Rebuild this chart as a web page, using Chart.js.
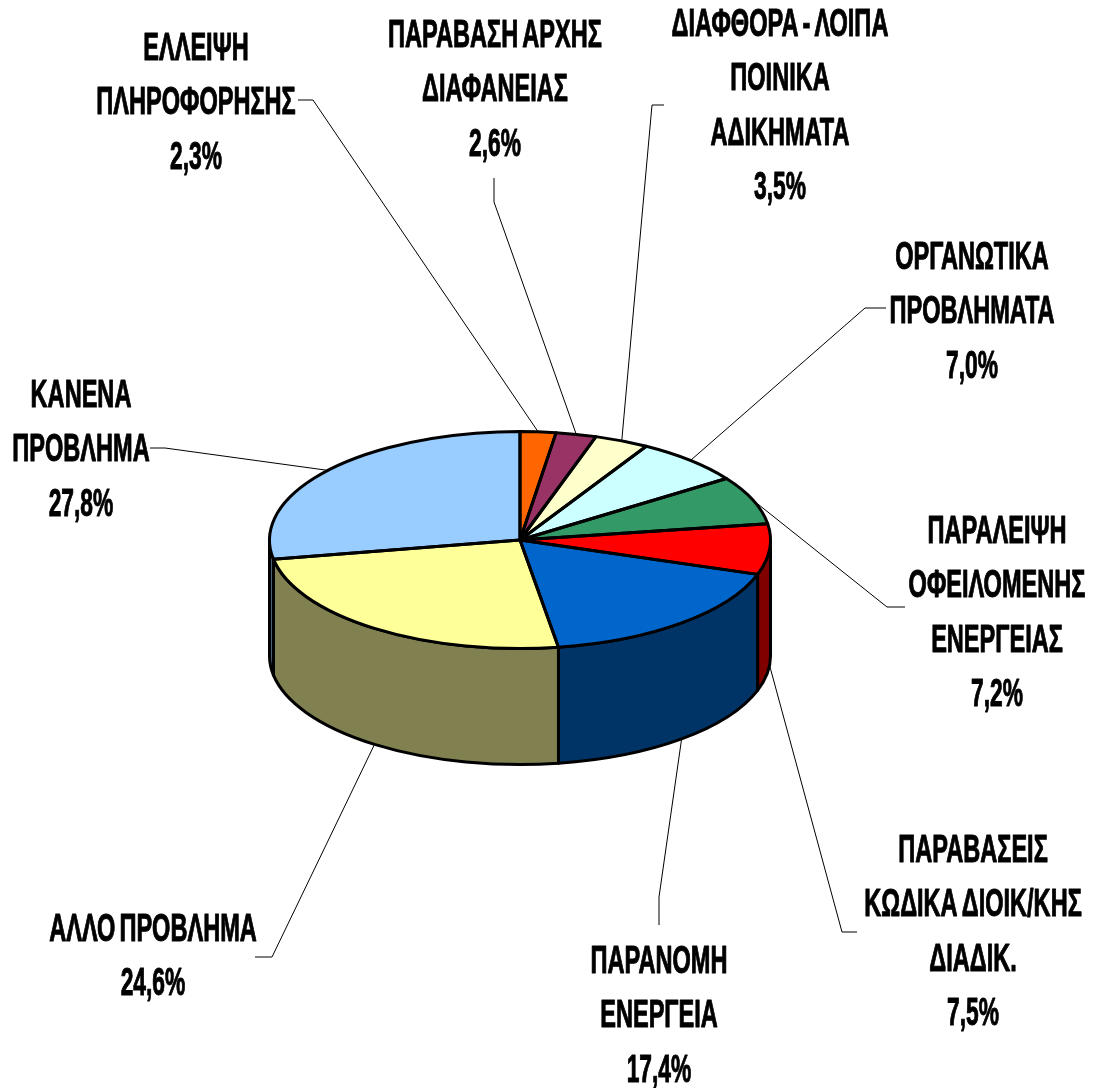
<!DOCTYPE html>
<html>
<head>
<meta charset="utf-8">
<title>Pie</title>
<script src="https://cdn.jsdelivr.net/npm/chart.js@4"></script>
<style>
  html, body { margin: 0; padding: 0; background: #fff; }
  #wrap { width: 1094px; height: 1088px; }
</style>
</head>
<body>
<div id="wrap"><canvas id="pie" width="1094" height="1088"></canvas></div>
<script>
// chart data, clockwise from 12 o'clock
const categories = [
  ["ΕΛΛΕΙΨΗ", "ΠΛΗΡΟΦΟΡΗΣΗΣ"],
  ["ΠΑΡΑΒΑΣΗ ΑΡΧΗΣ", "ΔΙΑΦΑΝΕΙΑΣ"],
  ["ΔΙΑΦΘΟΡΑ - ΛΟΙΠΑ", "ΠΟΙΝΙΚΑ", "ΑΔΙΚΗΜΑΤΑ"],
  ["ΟΡΓΑΝΩΤΙΚΑ", "ΠΡΟΒΛΗΜΑΤΑ"],
  ["ΠΑΡΑΛΕΙΨΗ", "ΟΦΕΙΛΟΜΕΝΗΣ", "ΕΝΕΡΓΕΙΑΣ"],
  ["ΠΑΡΑΒΑΣΕΙΣ", "ΚΩΔΙΚΑ ΔΙΟΙΚ/ΚΗΣ", "ΔΙΑΔΙΚ."],
  ["ΠΑΡΑΝΟΜΗ", "ΕΝΕΡΓΕΙΑ"],
  ["ΑΛΛΟ ΠΡΟΒΛΗΜΑ"],
  ["ΚΑΝΕΝΑ", "ΠΡΟΒΛΗΜΑ"]
];
const shares = [2.3, 2.6, 3.5, 7.0, 7.2, 7.5, 17.4, 24.6, 27.8];

// colours of the top face and of the side wall
const topColors = ["#FF6600", "#993366", "#FFFFCC", "#CCFFFF", "#339966", "#FF0000", "#0066CC", "#FFFF99", "#99CCFF"];
const wallColors = ["#803300", "#4D1A33", "#808066", "#668080", "#1A4D33", "#800000", "#003366", "#808050", "#4D6680"];

// label placement: centre x and first baseline
const labelX = [196, 495, 780, 972, 997, 973, 659, 153, 81];
const labelY = [60, 47, 36, 269, 543, 862, 973, 941, 407];
// first two points of each leader line, the last one comes from the slice
const leaderA = [[298, 100], [494, 178], [664, 105], [886, 308], [905, 607], [857, 932], [659, 925], [255, 957], [150, 448]];
const leaderB = [[313, 100], [494, 202], [652, 105], [865, 308], [887, 607], [842, 932], [659, 897], [272, 957], [165, 448]];

const lineStep = 54.4;
const squash = 108.5 / 250.5;
const depth = 116;
const fontPx = 38;
const narrowText = 0.62;
const narrowPct = 0.6;

function sliceRanges(a0, a1) {
  // part of the slice that faces the viewer (angles 0..PI on screen)
  const out = [];
  for (const k of [-1, 0, 1]) {
    const s = Math.max(a0, k * 2 * Math.PI);
    const e = Math.min(a1, k * 2 * Math.PI + Math.PI);
    if (e > s) out.push([s, e]);
  }
  return out;
}

const pie3d = {
  id: "pie3d",
  beforeDatasetsDraw(chart) {
    const ctx = chart.ctx;
    const arcs = chart.getDatasetMeta(0).data;
    ctx.save();
    ctx.lineWidth = 3;
    ctx.lineJoin = "round";
    ctx.strokeStyle = "#000";
    arcs.forEach((arc, i) => {
      const ry = arc.outerRadius * squash;
      sliceRanges(arc.startAngle, arc.endAngle).forEach(([s, e]) => {
        ctx.beginPath();
        ctx.ellipse(arc.x, arc.y, arc.outerRadius, ry, 0, s, e);
        ctx.ellipse(arc.x, arc.y + depth, arc.outerRadius, ry, 0, e, s, true);
        ctx.closePath();
        ctx.fillStyle = wallColors[i];
        ctx.fill();
        ctx.stroke();
      });
    });
    ctx.restore();
    // top face gets flattened while the library fills it
    const first = arcs[0];
    ctx.save();
    ctx.translate(first.x, first.y);
    ctx.scale(1, squash);
    ctx.translate(-first.x, -first.y);
  },
  afterDatasetsDraw(chart) {
    const ctx = chart.ctx;
    ctx.restore();
    const arcs = chart.getDatasetMeta(0).data;
    ctx.save();
    ctx.lineWidth = 3;
    ctx.lineJoin = "round";
    ctx.strokeStyle = "#000";
    arcs.forEach(arc => {
      ctx.beginPath();
      ctx.moveTo(arc.x, arc.y);
      ctx.ellipse(arc.x, arc.y, arc.outerRadius, arc.outerRadius * squash, 0, arc.startAngle, arc.endAngle);
      ctx.closePath();
      ctx.stroke();
    });
    ctx.restore();
  },
  afterDraw(chart) {
    const ctx = chart.ctx;
    const arcs = chart.getDatasetMeta(0).data;
    ctx.save();
    // leader lines
    ctx.lineWidth = 1;
    ctx.strokeStyle = "#000";
    arcs.forEach((arc, i) => {
      const mid = (arc.startAngle + arc.endAngle) / 2;
      const sin = Math.sin(mid);
      const endX = arc.x + arc.outerRadius * Math.cos(mid);
      const endY = arc.y + arc.outerRadius * squash * sin + (sin > 0 ? depth : 0);
      ctx.beginPath();
      ctx.moveTo(leaderA[i][0], leaderA[i][1]);
      ctx.lineTo(leaderB[i][0], leaderB[i][1]);
      ctx.lineTo(endX, endY);
      ctx.stroke();
    });
    // labels, stroked a little so they come out as heavy as the original
    ctx.fillStyle = "#000";
    ctx.strokeStyle = "#000";
    ctx.lineWidth = 1;
    ctx.lineJoin = "round";
    ctx.textAlign = "center";
    ctx.textBaseline = "alphabetic";
    ctx.font = `bold ${fontPx}px "Liberation Sans"`;
    ctx.wordSpacing = "-4px";
    categories.forEach((lines, i) => {
      const rows = lines.concat(shares[i].toFixed(1).replace(".", ",") + "%");
      rows.forEach((row, r) => {
        ctx.save();
        ctx.translate(labelX[i], labelY[i] + r * lineStep);
        ctx.scale(r === lines.length ? narrowPct : narrowText, 1);
        ctx.fillText(row, 0, 0);
        ctx.strokeText(row, 0, 0);
        ctx.restore();
      });
    });
    ctx.restore();
  }
};

new Chart(document.getElementById("pie"), {
  type: "pie",
  data: {
    labels: categories.map(c => c.join(" ")),
    datasets: [{ data: shares, backgroundColor: topColors, borderWidth: 0 }]
  },
  options: {
    responsive: false,
    animation: false,
    layout: { padding: { left: 269.5, right: 323.5, top: 289.5, bottom: 297.5 } },
    plugins: { legend: { display: false }, tooltip: { enabled: false } }
  },
  plugins: [pie3d]
});
</script>
</body>
</html>
